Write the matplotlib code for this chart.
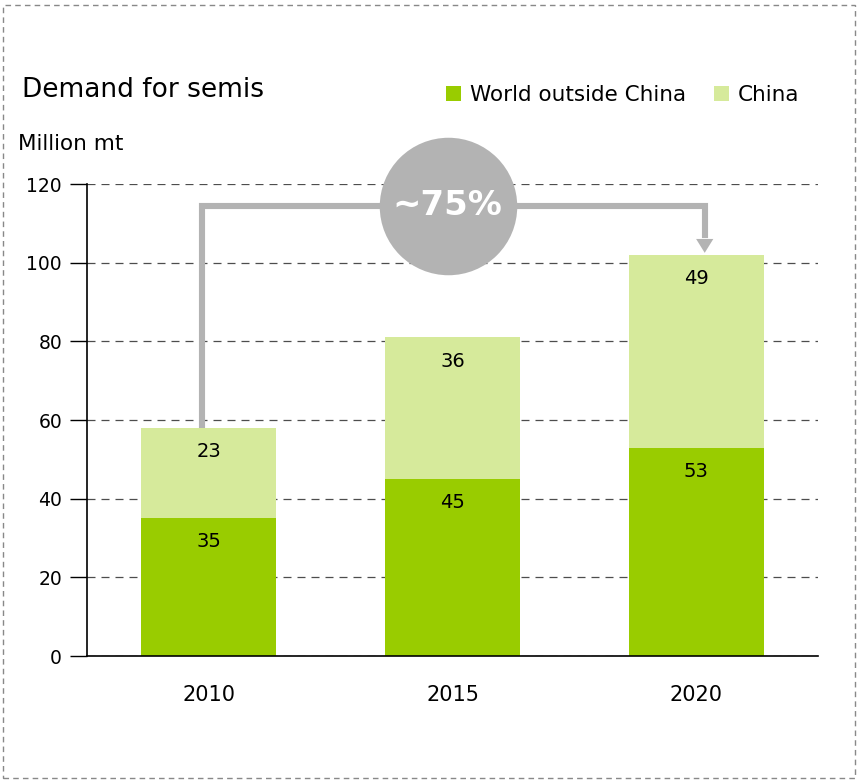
"""Demand for semis: stacked bars, China vs rest of world, with growth callout."""
import matplotlib.pyplot as plt
import numpy as np
from matplotlib.patches import Rectangle

YEARS = ["2010", "2015", "2020"]
WORLD = [35, 45, 53]
CHINA = [23, 36, 49]
GROWTH = "~75%"

DARK, LIGHT, GREY = "#99cc00", "#d6ea9b", "#b3b3b3"


def main() -> None:
    plt.rcParams["font.family"] = "DejaVu Sans"
    fig = plt.figure(figsize=(8.59, 7.81), dpi=100)
    ax = fig.add_axes([0.1013, 0.160, 0.851, 0.6044])

    x = np.arange(len(YEARS))
    world = np.array(WORLD)
    china = np.array(CHINA)
    total = world + china

    b1 = ax.bar(x, world, 0.555, color=DARK, zorder=3, label="World outside China")
    b2 = ax.bar(x, china, 0.555, bottom=world, color=LIGHT, zorder=3, label="China")
    for bars, vals, base in ((b1, world, 0), (b2, china, world)):
        for rect, v, b in zip(bars, vals, np.broadcast_to(base, vals.shape)):
            ax.text(rect.get_x() + rect.get_width() / 2, b + v - 6, str(v),
                    ha="center", va="center", fontsize=14, zorder=4)

    ax.set_xlim(-0.5, 2.5)
    ax.set_ylim(0, 120)
    ax.set_yticks(range(0, 121, 20))
    ax.set_xticks(x, YEARS)
    ax.tick_params(axis="y", labelsize=13.5, length=12, width=1, direction="out", pad=6)
    ax.tick_params(axis="x", labelsize=15, length=0, pad=21)
    ax.yaxis.grid(True, color="#4d4d4d", linestyle=(0, (6.4, 4.8)), linewidth=0.9, zorder=1)
    ax.spines[["top", "right"]].set_visible(False)
    for s in ("left", "bottom"):
        ax.spines[s].set_linewidth(1.2)
        ax.spines[s].set_zorder(5)

    # growth arrow from 2010 total up and over to 2020 total
    y_top = 114.5
    x0, x1 = -0.027, 2.035
    ax.plot([x0, x0, x1, x1], [total[0], y_top, y_top, total[2] + 5],
            color=GREY, linewidth=4.4, solid_joinstyle="miter", zorder=2, clip_on=False)
    ax.annotate("", xy=(x1, total[2] + 0.5), xytext=(x1, total[2] + 5.5),
                arrowprops=dict(arrowstyle="-|>,head_length=1.0,head_width=0.62",
                                color=GREY, lw=0, shrinkA=0, shrinkB=0), zorder=2)
    ax.plot(0.98, y_top, "o", markersize=99, color=GREY, markeredgewidth=0,
            zorder=6, clip_on=False)
    ax.text(0.98, y_top, GROWTH, ha="center", va="center", color="white",
            fontsize=24.5, fontweight="bold", zorder=7)

    fig.text(0.026, 0.885, "Demand for semis", fontsize=19, va="center")
    fig.text(0.021, 0.815, "Million mt", fontsize=15.5, va="center")
    fig.legend(handles=[b1, b2], loc="center left", bbox_to_anchor=(0.497, 0.878),
               ncol=2, frameon=False, fontsize=15.5, handlelength=0.7,
               handleheight=0.7, handletextpad=0.4, columnspacing=1.3)

    fig.add_artist(Rectangle((0.004, 0.004), 0.991, 0.99, transform=fig.transFigure,
                             fill=False, edgecolor="#888888", linewidth=1,
                             linestyle=(0, (4, 3))))

    fig.savefig("out.png", dpi=100)
    plt.close(fig)


if __name__ == "__main__":
    main()
